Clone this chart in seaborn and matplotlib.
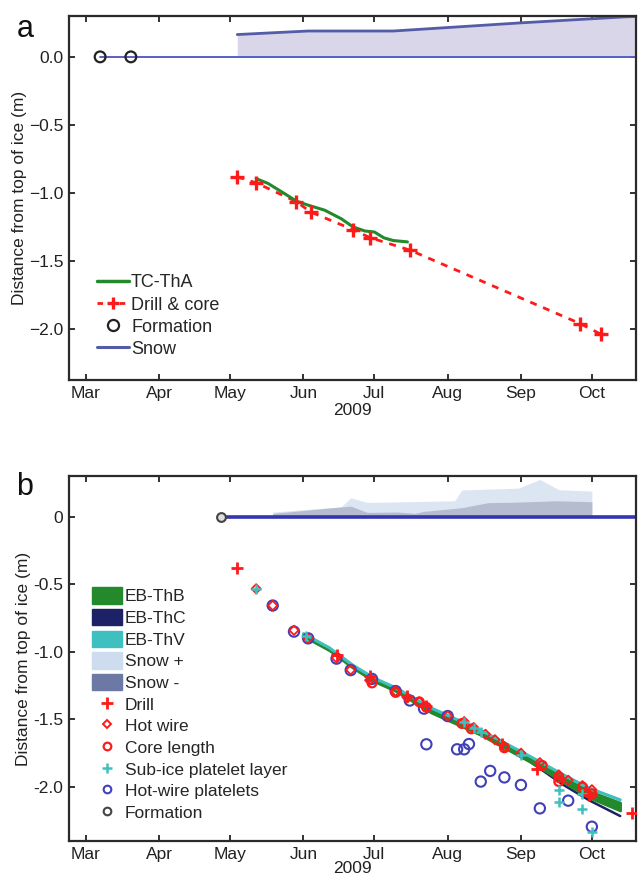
import numpy as np
import pandas as pd
import seaborn as sns
import matplotlib.pyplot as plt
import matplotlib.dates as mdates
from matplotlib.lines import Line2D
from matplotlib.patches import Patch

# -----------------------------
# Panel a data
# -----------------------------
a_formation_dates = ["2009-03-07", "2009-03-20"]
a_formation = [0.0, 0.0]

a_zero_dates = ["2009-03-07", "2009-10-25"]

a_snow_dates = ["2009-05-04", "2009-06-03", "2009-07-09", "2009-09-01", "2009-10-15", "2009-10-25"]
a_snow = [0.164, 0.19, 0.19, 0.25, 0.294, 0.30]

a_drill_dates = ["2009-05-04", "2009-05-12", "2009-05-29", "2009-06-04", "2009-06-22",
                 "2009-06-29", "2009-07-16", "2009-09-26", "2009-10-05"]
a_drill = [-0.882, -0.926, -1.064, -1.14, -1.27, -1.328, -1.42, -1.96, -2.04]

a_tc_dates = ["2009-05-12", "2009-05-17", "2009-05-24", "2009-05-29", "2009-06-03", "2009-06-10",
              "2009-06-17", "2009-06-22", "2009-06-27", "2009-07-01", "2009-07-05", "2009-07-09",
              "2009-07-15"]
a_tc = [-0.895, -0.93, -1.005, -1.06, -1.09, -1.127, -1.19, -1.25, -1.28, -1.287, -1.33, -1.35, -1.36]

a_yticks = [0.0, -0.5, -1.0, -1.5, -2.0]
a_yticklabels = ["0.0", "\u22120.5", "\u22121.0", "\u22121.5", "\u22122.0"]

# -----------------------------
# Panel b data
# -----------------------------
b_formation_dates = ["2009-04-27"]
b_formation = [0.0]
b_zero_dates = ["2009-04-27", "2009-10-25"]

b_snow_plus_dates = ["2009-05-19", "2009-06-17", "2009-06-21", "2009-06-28", "2009-07-11", "2009-08-04",
                     "2009-08-07", "2009-08-31", "2009-09-09", "2009-09-17", "2009-10-01"]
b_snow_plus = [0.035, 0.074, 0.14, 0.106, 0.11, 0.118, 0.198, 0.212, 0.276, 0.20, 0.19]

b_snow_minus_dates = ["2009-05-19", "2009-06-21", "2009-06-28", "2009-07-11", "2009-07-18", "2009-07-22",
                      "2009-08-07", "2009-08-18", "2009-08-30", "2009-09-16", "2009-10-01"]
b_snow_minus = [0.025, 0.079, 0.032, 0.035, 0.025, 0.04, 0.067, 0.104, 0.108, 0.118, 0.111]

b_model_dates = ["2009-06-01", "2009-06-12", "2009-06-22", "2009-07-01", "2009-07-10", "2009-07-25",
                 "2009-08-15", "2009-09-05", "2009-09-19", "2009-09-30", "2009-10-13"]
b_thb_upper = [-0.865, -0.975, -1.10, -1.20, -1.27, -1.42, -1.585, -1.785, -1.93, -2.03, -2.115]
b_thb_lower = [-0.885, -0.99, -1.12, -1.22, -1.29, -1.45, -1.615, -1.815, -1.965, -2.08, -2.175]
b_thc = [-0.87, -0.98, -1.11, -1.21, -1.28, -1.44, -1.605, -1.815, -1.985, -2.10, -2.215]
b_thv = [-0.865, -0.97, -1.10, -1.195, -1.265, -1.415, -1.58, -1.775, -1.91, -2.01, -2.095]

b_drill_dates = ["2009-05-04", "2009-06-15", "2009-06-29", "2009-07-15", "2009-07-23", "2009-08-24",
                 "2009-09-08", "2009-09-30", "2009-10-18"]
b_drill = [-0.376, -1.02, -1.175, -1.33, -1.40, -1.68, -1.87, -2.06, -2.19]

b_hotwire_dates = ["2009-05-12", "2009-05-19", "2009-05-28", "2009-06-03", "2009-06-15", "2009-06-21",
                   "2009-06-29", "2009-07-10", "2009-07-15", "2009-07-20", "2009-08-01", "2009-08-08",
                   "2009-08-12", "2009-08-17", "2009-08-21", "2009-08-25", "2009-09-01", "2009-09-09",
                   "2009-09-17", "2009-09-21", "2009-09-27", "2009-10-01"]
b_hotwire = [-0.533, -0.657, -0.84, -0.90, -1.045, -1.133, -1.21, -1.29, -1.34, -1.37, -1.474, -1.516,
             -1.56, -1.61, -1.65, -1.70, -1.75, -1.82, -1.91, -1.95, -1.99, -2.02]

b_core_dates = ["2009-06-30", "2009-07-10", "2009-07-20", "2009-07-23", "2009-08-07", "2009-08-11",
                "2009-08-25", "2009-09-10", "2009-09-17", "2009-09-17", "2009-09-27", "2009-10-01"]
b_core = [-1.23, -1.30, -1.37, -1.41, -1.53, -1.57, -1.71, -1.84, -1.93, -1.96, -2.00, -2.05]

b_subice_dates = ["2009-05-12", "2009-06-02", "2009-08-08", "2009-08-12", "2009-08-15", "2009-09-01",
                  "2009-09-17", "2009-09-17", "2009-09-27", "2009-09-27", "2009-10-01"]
b_subice = [-0.533, -0.88, -1.52, -1.56, -1.59, -1.76, -2.02, -2.11, -2.05, -2.165, -2.33]

b_hwplate_dates = ["2009-05-19", "2009-05-28", "2009-06-03", "2009-06-15", "2009-06-21", "2009-06-30",
                   "2009-07-10", "2009-07-16", "2009-07-22", "2009-08-01", "2009-07-23", "2009-08-05",
                   "2009-08-08", "2009-08-10", "2009-08-15", "2009-08-19", "2009-08-25", "2009-09-01",
                   "2009-09-09", "2009-09-21", "2009-10-01"]
b_hwplate = [-0.657, -0.85, -0.90, -1.05, -1.135, -1.20, -1.29, -1.36, -1.42, -1.475, -1.684, -1.721,
             -1.721, -1.682, -1.96, -1.881, -1.929, -1.985, -2.158, -2.101, -2.294]

b_yticks = [0.0, -0.5, -1.0, -1.5, -2.0]
b_yticklabels = ["0", "-0.5", "-1.0", "-1.5", "-2.0"]

# -----------------------------
# Colours
# -----------------------------
GREEN = "#23892b"
RED = "#ff1a1a"
NAVY = "#1d2266"
TEAL = "#3fc0c0"
BLUE = "#4040b8"
SNOW_A_FILL = "#d9d6ea"
SNOW_A_LINE = "#535ca6"
SNOW_PLUS = "#dce6f3"
SNOW_MINUS = "#b5bccf"

d = lambda s: pd.to_datetime(s)

# -----------------------------
# Figure
# -----------------------------
sns.set_theme(style="ticks")
plt.rcParams["font.family"] = ["Liberation Sans", "DejaVu Sans"]

fig = plt.figure(figsize=(6.38, 8.77), dpi=100)
ax_a = fig.add_axes([0.108, 0.5667, 0.889, 0.415])
ax_b = fig.add_axes([0.108, 0.041, 0.889, 0.416])

xlim = (d("2009-02-21 19:00"), d("2009-10-19 17:00"))


def style_axes(ax, yticks, yticklabels, ylim, ylab_x, xlab_y):
    ax.set_xlim(*xlim)
    ax.set_ylim(*ylim)
    ax.xaxis.set_major_locator(mdates.MonthLocator(bymonth=range(3, 11)))
    ax.xaxis.set_major_formatter(mdates.DateFormatter("%b"))
    ax.set_yticks(yticks)
    ax.set_yticklabels(yticklabels)
    ax.tick_params(direction="in", length=4, width=1.3, top=True, right=True,
                   labelsize=12.5, colors="#222222", pad=4)
    for sp in ax.spines.values():
        sp.set_visible(True)
        sp.set_linewidth(1.6)
        sp.set_color("#2a2a2a")
    ax.set_ylabel("Distance from top of ice (m)", fontsize=12.5, color="#222222")
    ax.yaxis.set_label_coords(ylab_x, 0.5)
    ax.set_xlabel("2009", fontsize=12.5, color="#222222")
    ax.xaxis.set_label_coords(0.5, xlab_y)


# ---- panel a ----
ax = ax_a
ax.fill_between(d(a_snow_dates), 0, a_snow, color=SNOW_A_FILL, lw=0, zorder=1)
sns.lineplot(x=d(a_zero_dates), y=[0, 0], ax=ax, color="#4b55c0", lw=1.3, zorder=2)
sns.lineplot(x=d(a_snow_dates), y=a_snow, ax=ax, color=SNOW_A_LINE, lw=2, zorder=2)
sns.lineplot(x=d(a_drill_dates), y=a_drill, ax=ax, color=RED, lw=2, ls=(0, (2.5, 2.5)), zorder=3)
sns.scatterplot(x=d(a_drill_dates), y=a_drill, ax=ax, marker="+", s=90, color=RED,
                linewidth=2.4, zorder=4)
sns.lineplot(x=d(a_tc_dates), y=a_tc, ax=ax, color=GREEN, lw=2.2, zorder=3)
sns.scatterplot(x=d(a_formation_dates), y=a_formation, ax=ax, marker="o", s=60,
                fc="none", ec="#222222", linewidth=1.6, zorder=5)

style_axes(ax, a_yticks, a_yticklabels, (-2.375, 0.30), -0.074, -0.062)

a_handles = [
    Line2D([], [], color=GREEN, lw=2.5),
    Line2D([], [], color=RED, lw=2, ls=(0, (2, 2)), marker="+", ms=9, mew=2.4),
    Line2D([], [], color="none", marker="o", ms=8, mfc="none", mec="#222222", mew=1.6),
    Line2D([], [], color=SNOW_A_LINE, lw=2.2),
]
a_labels = ["TC-ThA", "Drill & core", "Formation", "Snow"]
ax.legend(a_handles, a_labels, loc="upper left", bbox_to_anchor=(0.05, 0.29), frameon=False,
          fontsize=13, handlelength=1.75, handletextpad=0.12, labelspacing=0.28,
          borderpad=0, borderaxespad=0)

# ---- panel b ----
ax = ax_b
ax.fill_between(d(b_snow_plus_dates), 0, b_snow_plus, color=SNOW_PLUS, lw=0, zorder=1)
ax.fill_between(d(b_snow_minus_dates), 0, b_snow_minus, color=SNOW_MINUS, lw=0, zorder=1)
sns.lineplot(x=d(b_zero_dates), y=[0, 0], ax=ax, color="#3336b0", lw=2.6, zorder=2)

sns.lineplot(x=d(b_model_dates), y=b_thc, ax=ax, color=NAVY, lw=1.8, zorder=2)
ax.fill_between(d(b_model_dates), b_thb_lower, b_thb_upper, color=GREEN, ec=GREEN, lw=1.8, zorder=3)
sns.lineplot(x=d(b_model_dates), y=b_thv, ax=ax, color=TEAL, lw=2.2, zorder=3)

sns.scatterplot(x=d(b_hwplate_dates), y=b_hwplate, ax=ax, marker="o", s=55,
                fc="none", ec=BLUE, linewidth=1.5, zorder=4)
sns.scatterplot(x=d(b_core_dates), y=b_core, ax=ax, marker="o", s=40,
                fc="none", ec=RED, linewidth=1.6, zorder=5)
sns.scatterplot(x=d(b_hotwire_dates), y=b_hotwire, ax=ax, marker="D", s=22,
                fc="none", ec=RED, linewidth=1.3, zorder=5)
sns.scatterplot(x=d(b_subice_dates), y=b_subice, ax=ax, marker="+", s=60, color=TEAL,
                linewidth=1.8, zorder=6)
sns.scatterplot(x=d(b_drill_dates), y=b_drill, ax=ax, marker="+", s=80, color=RED,
                linewidth=2.0, zorder=6)
sns.scatterplot(x=d(b_formation_dates), y=b_formation, ax=ax, marker="o", s=40,
                fc="#dddddd", ec="#444444", linewidth=1.5, zorder=6)

style_axes(ax, b_yticks, b_yticklabels, (-2.40, 0.30), -0.067, -0.055)

b_handles = [
    Patch(fc=GREEN, ec=GREEN),
    Patch(fc=NAVY, ec=NAVY),
    Patch(fc=TEAL, ec=TEAL),
    Patch(fc="#cddcef", ec="#cddcef"),
    Patch(fc="#6c79a4", ec="#6c79a4"),
    Line2D([], [], color="none", marker="+", ms=8, mec=RED, mew=2),
    Line2D([], [], color="none", marker="D", ms=4.5, mfc="none", mec=RED, mew=1.4),
    Line2D([], [], color="none", marker="o", ms=5.5, mfc="none", mec=RED, mew=1.6),
    Line2D([], [], color="none", marker="+", ms=7, mec=TEAL, mew=1.8),
    Line2D([], [], color="none", marker="o", ms=5.5, mfc="none", mec=BLUE, mew=1.5),
    Line2D([], [], color="none", marker="o", ms=5.5, mfc="none", mec="#444444", mew=1.5),
]
b_labels = ["EB-ThB", "EB-ThC", "EB-ThV", "Snow +", "Snow -", "Drill", "Hot wire", "Core length",
            "Sub-ice platelet layer", "Hot-wire platelets", "Formation"]
ax.legend(b_handles, b_labels, loc="upper left", bbox_to_anchor=(0.04, 0.695), frameon=False,
          fontsize=12.5, handlelength=1.75, handleheight=1.05, handletextpad=0.15,
          labelspacing=0.27, borderpad=0, borderaxespad=0)

fig.text(25 / 638, 1 - 29 / 877, "a", fontsize=22, ha="center", va="center", color="#111111")
fig.text(25 / 638, 1 - 487 / 877, "b", fontsize=22, ha="center", va="center", color="#111111")

fig.savefig("out.png", dpi=100)
